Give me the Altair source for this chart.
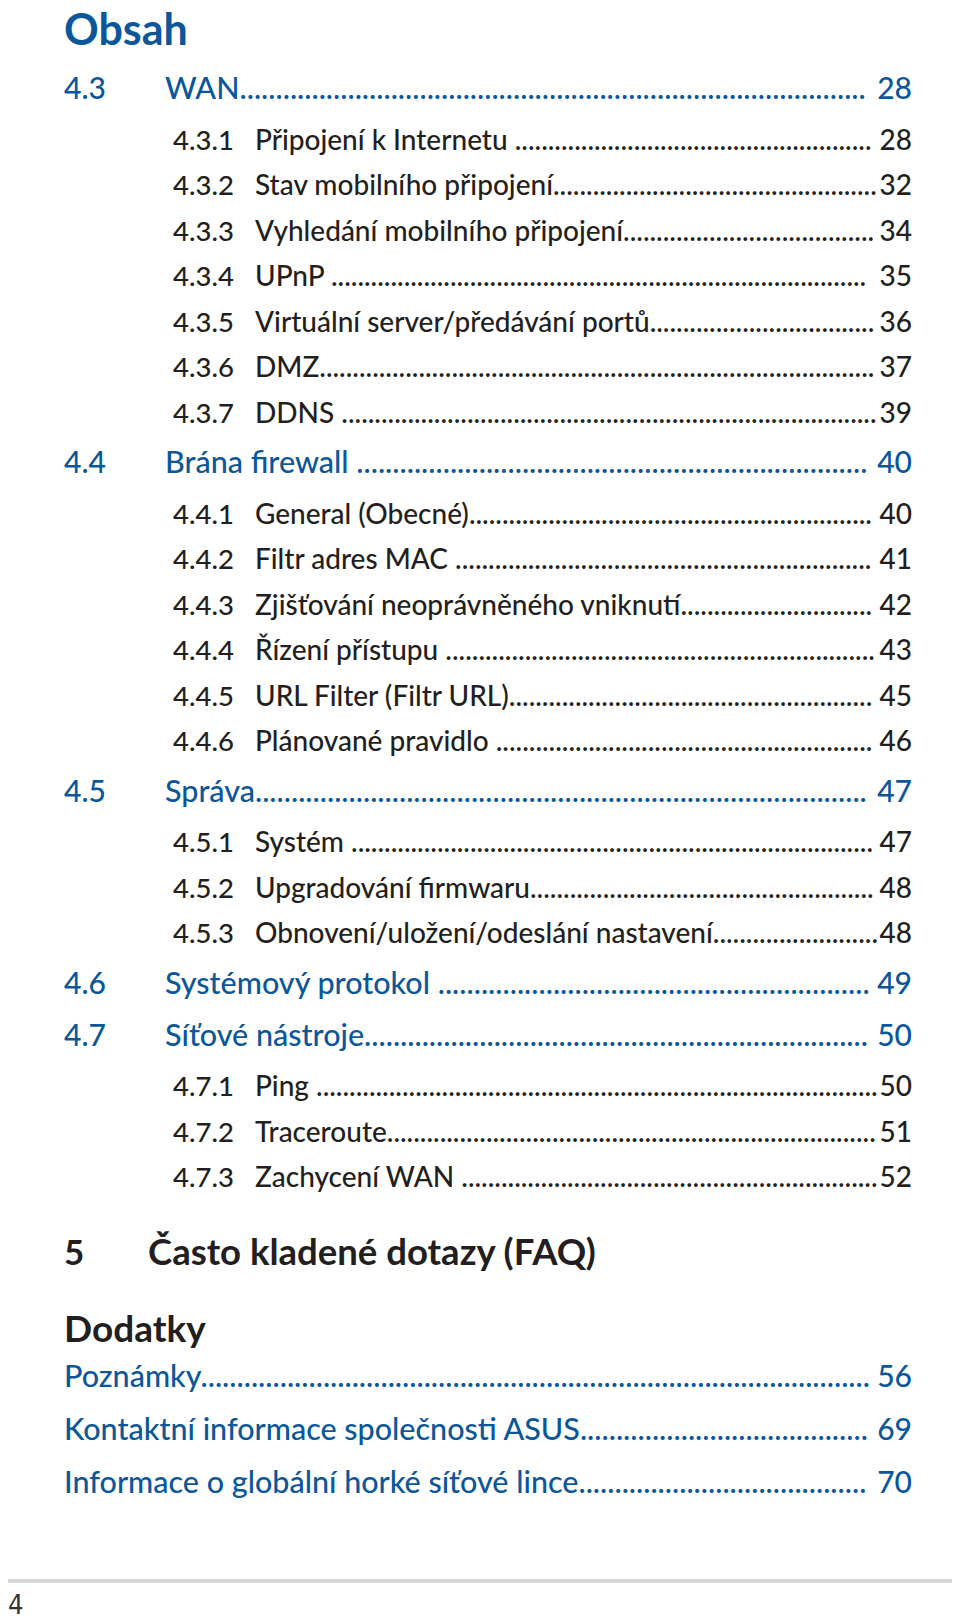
import altair as alt
import pandas as pd

# ---------------- content ----------------
heading = "Obsah"

sec_nums = ["4.3", "4.3.1", "4.3.2", "4.3.3", "4.3.4", "4.3.5", "4.3.6", "4.3.7",
            "4.4", "4.4.1", "4.4.2", "4.4.3", "4.4.4", "4.4.5", "4.4.6",
            "4.5", "4.5.1", "4.5.2", "4.5.3",
            "4.6", "4.7", "4.7.1", "4.7.2", "4.7.3"]
sec_titles = ["WAN", "Připojení k Internetu ", "Stav mobilního připojení",
              "Vyhledání mobilního připojení", "UPnP  ", "Virtuální server/předávání portů",
              "DMZ", "DDNS ",
              "Brána firewall ", "General (Obecné)", "Filtr adres MAC ",
              "Zjišťování neoprávněného vniknutí", "Řízení přístupu ",
              "URL Filter (Filtr URL)", "Plánované pravidlo ",
              "Správa", "Systém ", "Upgradování firmwaru",
              "Obnovení/uložení/odeslání nastavení",
              "Systémový protokol ", "Síťové nástroje", "Ping ", "Traceroute",
              "Zachycení WAN "]
sec_pages = [28, 28, 32, 34, 35, 36, 37, 39,
             40, 40, 41, 42, 43, 45, 46,
             47, 47, 48, 48,
             49, 50, 50, 51, 52]
sec_levels = [1, 2, 2, 2, 2, 2, 2, 2,
              1, 2, 2, 2, 2, 2, 2,
              1, 2, 2, 2,
              1, 1, 2, 2, 2]

faq_num = "5"
faq_title = "Často kladené dotazy (FAQ)"
appendix_heading = "Dodatky"
app_titles = ["Poznámky", "Kontaktní informace společnosti ASUS",
              "Informace o globální horké síťové lince"]
app_pages = [56, 69, 70]
footer_page = "4"

# ---------------- style ----------------
BLUE = "#0b5799"
DARK = "#231f20"
FONT = "Lato"
LEADER = "." * 260

# ---------------- layout (computed) ----------------
ys = []
y = 99.0
for i, lv in enumerate(sec_levels):
    if i > 0:
        prev = sec_levels[i - 1]
        if prev == 2 and lv == 2:
            y += 45.5
        elif prev == 1 and lv == 1:
            y += 52
        else:
            y += 50.5
    ys.append(y)

sec = pd.DataFrame({"num": sec_nums, "title": [t + LEADER for t in sec_titles],
                    "page": [str(p) for p in sec_pages], "level": sec_levels, "y": ys})
l1 = sec[sec.level == 1]
l2 = sec[sec.level == 2]

app_y = [1387 + 53 * i for i in range(len(app_titles))]
app = pd.DataFrame({"title": [t + LEADER for t in app_titles],
                    "page": [str(p) for p in app_pages], "y": app_y})

X = alt.X("x:Q", scale=alt.Scale(domain=[8, 952], nice=False, zero=False), axis=None)
Y = alt.Y("y:Q", scale=alt.Scale(domain=[8, 1614], nice=False, zero=False, reverse=True), axis=None)


def text_layer(df, field, x, size, color, align="left", weight=500, limit=None, font=FONT):
    d = df.copy()
    d["x"] = x
    kw = dict(align=align, baseline="alphabetic", font=font, fontSize=size,
              color=color, fontWeight=weight)
    if limit is not None:
        kw["limit"] = limit
        kw["ellipsis"] = "."
    return alt.Chart(d).mark_text(**kw).encode(x=X, y=Y, text=alt.Text(f"{field}:N"))


layers = []
# heading
layers.append(text_layer(pd.DataFrame({"t": [heading], "y": [45]}), "t", 64, 43, BLUE, weight="bold"))
# level 1
layers.append(text_layer(l1, "num", 64, 30, BLUE))
layers.append(text_layer(l1, "title", 165, 30.5, BLUE, limit=707))
layers.append(text_layer(l1, "page", 912, 30, BLUE, align="right"))
# level 2
layers.append(text_layer(l2, "num", 173, 27.5, DARK))
layers.append(text_layer(l2, "title", 255, 28, DARK, limit=623))
layers.append(text_layer(l2, "page", 912, 28, DARK, align="right"))
# chapter 5
layers.append(text_layer(pd.DataFrame({"t": [faq_num], "y": [1265]}), "t", 64, 35, DARK, weight="bold"))
layers.append(text_layer(pd.DataFrame({"t": [faq_title], "y": [1265]}), "t", 148, 36.5, DARK, weight="bold"))
# appendix
layers.append(text_layer(pd.DataFrame({"t": [appendix_heading], "y": [1342]}), "t", 64, 37, DARK, weight="bold"))
layers.append(text_layer(app, "title", 64, 30.5, BLUE, limit=808))
layers.append(text_layer(app, "page", 912, 30, BLUE, align="right"))
# footer
rule_df = pd.DataFrame({"x": [8], "x2": [952], "y": [1581]})
layers.append(alt.Chart(rule_df).mark_rule(color="#d6d6d6", strokeWidth=4).encode(
    x=X, x2="x2:Q", y=Y))
layers.append(text_layer(pd.DataFrame({"t": [footer_page], "y": [1614]}), "t", 8, 27, "#333333",
                         font="DejaVu Sans Condensed, Liberation Sans Narrow, sans-serif",
                         weight="normal"))

chart = alt.layer(*layers).properties(
    width=944, height=1606, padding=0, autosize="none"
).configure_view(stroke=None)

chart.save("out.html", embed_options={"renderer": "svg", "actions": False})
